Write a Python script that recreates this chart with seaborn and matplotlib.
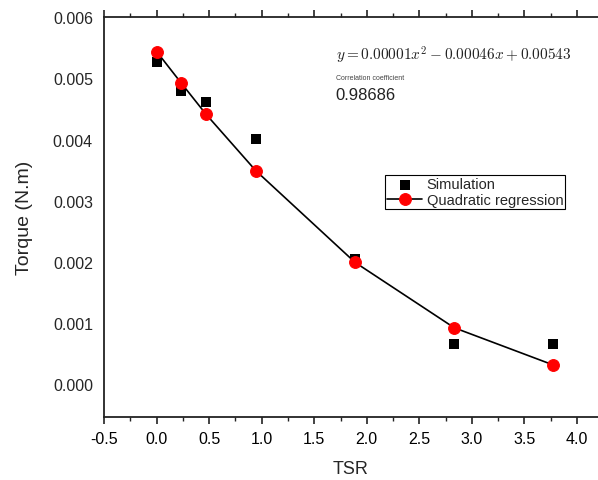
import numpy as np
import pandas as pd
import matplotlib
matplotlib.use("Agg")
import matplotlib.pyplot as plt
import seaborn as sns
from matplotlib.ticker import MultipleLocator, FormatStrFormatter

tsr = [0.0, 0.236, 0.472, 0.944, 1.888, 2.832, 3.776]
torque_sim = [0.00527, 0.00479, 0.00461, 0.00401, 0.00205, 0.00066, 0.00066]
torque_reg = [0.00544, 0.00492, 0.00441, 0.00349, 0.00199, 0.00092, 0.00031]
xticks = [-0.5, 0.0, 0.5, 1.0, 1.5, 2.0, 2.5, 3.0, 3.5, 4.0]
yticks = [0.000, 0.001, 0.002, 0.003, 0.004, 0.005, 0.006]

df = pd.DataFrame({"TSR": tsr, "sim": torque_sim, "reg": torque_reg})

sns.set_theme(style="white")
plt.rcParams["font.family"] = ["Liberation Sans", "DejaVu Sans"]
plt.rcParams["mathtext.fontset"] = "cm"

fig = plt.figure(figsize=(5.98, 4.81), dpi=100)
ax = fig.add_axes([0.174, 0.131, 0.826, 0.831])

sns.lineplot(data=df, x="TSR", y="reg", ax=ax, color="black", lw=1.2,
             marker="o", markersize=8.5, markerfacecolor="red",
             markeredgecolor="red", label="Quadratic regression", zorder=3)
sns.scatterplot(data=df, x="TSR", y="sim", ax=ax, marker="s", s=45,
                color="black", edgecolor="black", linewidth=0,
                label="Simulation", zorder=2)

ax.set_xlim(-0.5, 4.2)
ax.set_ylim(-0.00054, 0.006)
ax.set_xticks(xticks)
ax.set_yticks(yticks)
ax.xaxis.set_major_formatter(FormatStrFormatter("%.1f"))
ax.yaxis.set_major_formatter(FormatStrFormatter("%.3f"))
ax.xaxis.set_minor_locator(MultipleLocator(0.25))

for s in ["left", "bottom", "top"]:
    ax.spines[s].set_visible(True)
    ax.spines[s].set_color("#222222")
    ax.spines[s].set_linewidth(1.3)
ax.spines["right"].set_visible(False)

ax.tick_params(axis="x", which="major", direction="out", length=5, width=1.2,
               labelsize=11.5, colors="#222222", labelcolor="black",
               bottom=True, top=True, pad=5)
ax.tick_params(axis="x", which="minor", direction="out", length=3, width=1.0,
               bottom=True, top=True, colors="#222222")
ax.tick_params(axis="y", which="both", length=0, labelsize=11.5, pad=8)

ax.set_xlabel("TSR", fontsize=13, labelpad=10)
ax.set_ylabel("Torque (N.m)", fontsize=14, labelpad=14)

handles, labels = ax.get_legend_handles_labels()
order = [labels.index("Simulation"), labels.index("Quadratic regression")]
leg = ax.legend([handles[i] for i in order], [labels[i] for i in order],
                loc="upper left", bbox_to_anchor=(0.569, 0.605),
                borderaxespad=0, fontsize=10.5, frameon=True, fancybox=False,
                edgecolor="black", framealpha=1, borderpad=0.15,
                handlelength=2.4, handletextpad=0.3, labelspacing=0.1)
leg.get_frame().set_linewidth(0.8)

fig.text(336 / 598, 1 - 55 / 481, r"$y = 0.00001x^2 - 0.00046x + 0.00543$",
         fontsize=11, va="center", ha="left", color="#222222")
fig.text(336 / 598, 1 - 79 / 481, "Correlation coefficient", fontsize=5,
         color="#444444", va="center", ha="left")
fig.text(335 / 598, 1 - 96 / 481, "0.98686", fontsize=12, color="#222222",
         va="center", ha="left")

fig.savefig("out.png", dpi=100)
